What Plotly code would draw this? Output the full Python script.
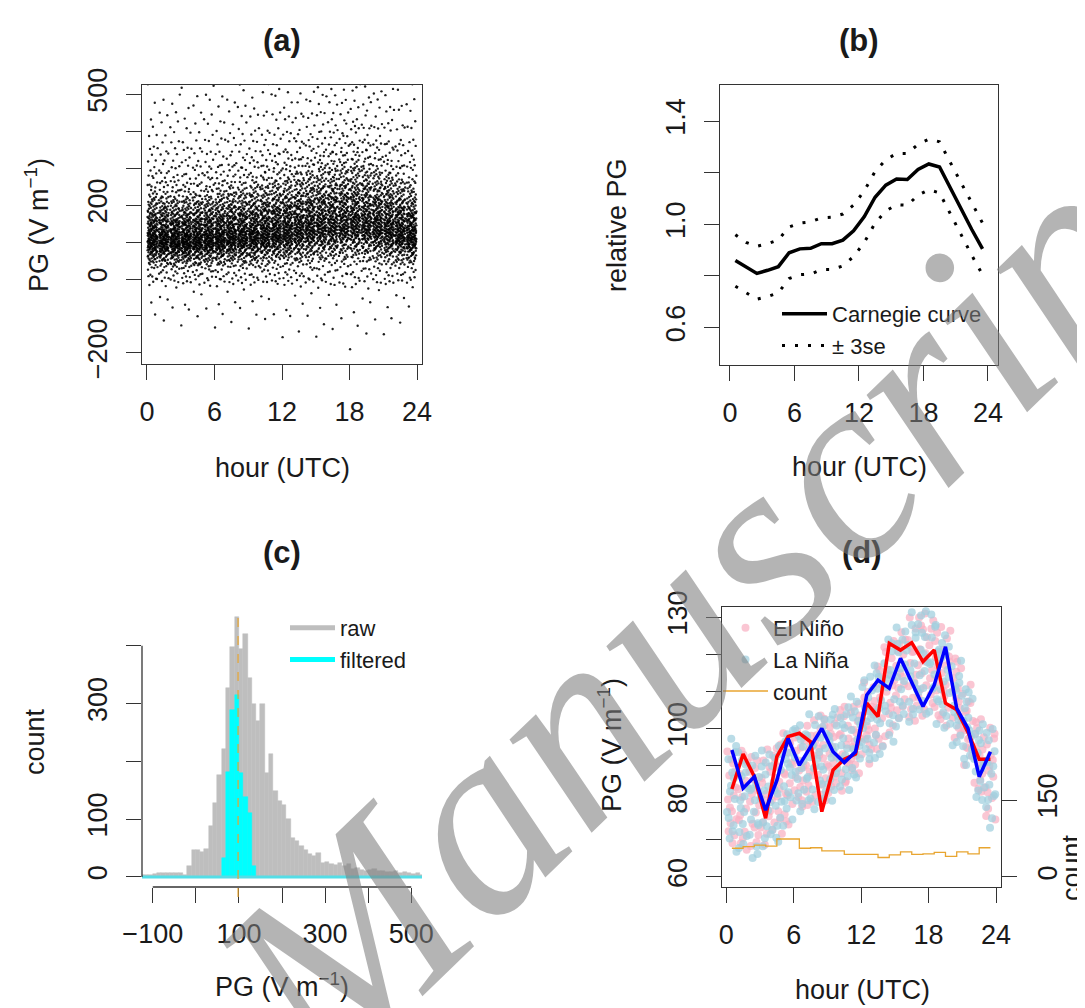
import math
import plotly.graph_objects as go

W, H = 1085, 1008
OFF = 8  # the page body margin shifts the figure by 8 px
FONT = "Liberation Sans, Arial, Helvetica, sans-serif"
INK = "#1a1a1a"
AXC = "#333333"

# ------------------------------------------------------------------ data
hours = list(range(24))
hour_mid = [h + 0.5 for h in hours]

# (c) raw PG histogram, 10 V/m bins (left edges) and counts
raw_bin_left = list(range(-130, 530, 10))
raw_counts = [4, 4, 3, 5, 7, 7, 6, 6, 6, 7, 4, 18, 46,
              47, 43, 48, 88, 128, 176, 222, 326, 398, 450,
              395, 420, 345, 300, 270, 300, 180, 212, 148, 132,
              125, 100, 68, 62, 53, 46, 40, 36, 42, 24,
              25, 23, 20, 24, 18, 22, 14, 16, 12, 10,
              12, 14, 11, 10, 9, 8, 10, 7, 8, 6, 5, 6, 4]
# (c) filtered PG histogram
filt_bin_left = [60, 70, 80, 90, 100, 110, 120, 130]
filt_counts = [32, 182, 288, 314, 180, 138, 110, 18]
pg_median_line = 98

# (a) centre of the dense PG band for each hour
a_hour_centre = [97, 96, 95, 95, 97, 99, 101, 104, 106, 108, 112, 115,
                 118, 123, 128, 132, 135, 138, 140, 136, 130, 124, 115, 108]

# (b) Carnegie curve and +-3 standard errors
carnegie = [0.86, 0.835, 0.81, 0.822, 0.836, 0.89, 0.905, 0.907, 0.925, 0.925,
            0.939, 0.975, 1.03, 1.105, 1.152, 1.176, 1.174, 1.213, 1.234, 1.222,
            1.14, 1.06, 0.98, 0.905]
carnegie_upper = [0.96, 0.93, 0.915, 0.925, 0.94, 0.99, 1.005, 1.01, 1.025, 1.028,
                  1.04, 1.075, 1.13, 1.205, 1.25, 1.275, 1.275, 1.31, 1.33, 1.32,
                  1.24, 1.16, 1.08, 1.005]
carnegie_lower = [0.76, 0.735, 0.71, 0.72, 0.735, 0.79, 0.805, 0.807, 0.825, 0.825,
                  0.839, 0.875, 0.93, 1.005, 1.052, 1.076, 1.074, 1.113, 1.134, 1.122,
                  1.04, 0.96, 0.88, 0.805]

# (d) hourly mean PG for El Nino / La Nina and hourly sample count
elnino_mean = [83.7, 93.1, 87.0, 75.8, 92.4, 97.8, 98.7, 96.4, 77.6, 88.8, 91.7, 93.1,
               106.8, 103.2, 122.9, 121.1, 123.1, 118.0, 121.1, 106.8, 105.0, 99.0, 91.7, 91.7]
lanina_mean = [94.2, 83.9, 87.0, 78.0, 86.0, 97.3, 90.1, 95.0, 100.0, 93.7, 90.8, 93.7,
               109.0, 113.0, 110.8, 118.9, 112.6, 105.9, 111.7, 122.0, 105.4, 100.0, 87.0, 93.7]
count_per_hour = [56, 59, 62, 60, 74, 74, 56, 57, 51, 51, 44, 44,
                  44, 38, 43, 49, 44, 45, 48, 40, 49, 45, 57, 57]
# (d) envelopes of the individual-value clouds, per hour
elnino_lo = [68, 67, 67, 68, 70, 74, 77, 79, 80, 81, 83, 87, 90, 93, 97, 100, 102, 103, 102, 100, 96, 90, 82, 75]
elnino_hi = [97, 95, 94, 95, 97, 99, 101, 103, 104, 105, 106, 108, 113, 118, 124, 127, 130, 132, 132, 128, 120, 112, 104, 101]
lanina_lo = [66, 66, 65, 66, 69, 73, 76, 78, 79, 80, 82, 86, 89, 92, 96, 99, 101, 102, 101, 99, 95, 88, 80, 73]
lanina_hi = [98, 95, 93, 95, 98, 100, 102, 104, 105, 106, 107, 109, 114, 120, 125, 129, 132, 133, 131, 127, 119, 111, 103, 100]


# ------------------------------------------------------------------ derived marks
def radical_inverse(n, base):
    """Halton low-discrepancy sequence: deterministic, even spreading of points."""
    f, r = 1.0, 0.0
    while n > 0:
        f /= base
        r += f * (n % base)
        n //= base
    return r


# centre of the most populated raw bin (the dense band of the histogram)
_imax = raw_counts.index(max(raw_counts))
raw_mode = raw_bin_left[_imax] + 5.0

# (a) every raw value of the histogram, spread over the 24 hour columns and
#     scaled to that hour's band centre
a_x, a_y = [], []
i = 1
for left, n in zip(raw_bin_left, raw_counts):
    for k in range(n):
        pos = radical_inverse(i, 2) * 24.0
        fy = radical_inverse(i, 3)
        h = min(int(pos), 23)
        a_x.append(h + 0.5 + 0.9 * (pos - h - 0.5))
        a_y.append((left + 10.0 * fy) * a_hour_centre[h] / raw_mode)
        i += 1


def cloud(lo, hi, n, start):
    xs, ys = [], []
    j = start
    for h in hours:
        for m in range(n):
            fx = radical_inverse(j, 2)
            fy = radical_inverse(j, 3)
            xs.append(h + 0.04 + 0.92 * fx)
            ys.append(lo[h] + (hi[h] - lo[h]) * fy)
            j += 1
    return xs, ys


en_x, en_y = cloud(elnino_lo, elnino_hi, 15, 1)
ln_x, ln_y = cloud(lanina_lo, lanina_hi, 15, 777)

# ------------------------------------------------------------------ figure
fig = go.Figure()

# (a)
fig.add_trace(go.Scatter(x=a_x, y=a_y, mode="markers", xaxis="x", yaxis="y",
                         marker=dict(size=2.4, color="rgba(0,0,0,0.88)"), showlegend=False,
                         hoverinfo="skip"))

# (b)
fig.add_trace(go.Scatter(x=hour_mid, y=carnegie, mode="lines", xaxis="x2", yaxis="y2",
                         line=dict(color="black", width=3.5), name="Carnegie curve",
                         legend="legend"))
fig.add_trace(go.Scatter(x=hour_mid, y=carnegie_upper, mode="lines", xaxis="x2", yaxis="y2",
                         line=dict(color="black", width=3, dash="3px,10px"), name="± 3se",
                         legend="legend"))
fig.add_trace(go.Scatter(x=hour_mid, y=carnegie_lower, mode="lines", xaxis="x2", yaxis="y2",
                         line=dict(color="black", width=3, dash="3px,10px"), showlegend=False))

# (c)
fig.add_trace(go.Bar(x=[l + 5 for l in raw_bin_left], y=raw_counts, width=10,
                     xaxis="x3", yaxis="y3",
                     marker=dict(color="#bebebe", line=dict(width=0.5, color="#bebebe")),
                     showlegend=False))
fig.add_trace(go.Bar(x=[l + 5 for l in filt_bin_left], y=filt_counts, width=10,
                     xaxis="x3", yaxis="y3",
                     marker=dict(color="#00ffff", line=dict(width=0.5, color="#00ffff")),
                     showlegend=False))
fig.add_trace(go.Scatter(x=[raw_bin_left[0], raw_bin_left[-1] + 10], y=[0, 0], mode="lines",
                         xaxis="x3", yaxis="y3", line=dict(color="#55dde6", width=3),
                         showlegend=False, hoverinfo="skip"))
fig.add_trace(go.Scatter(x=[None], y=[None], mode="lines", xaxis="x3", yaxis="y3",
                         line=dict(color="#bebebe", width=5), name="raw", legend="legend2"))
fig.add_trace(go.Scatter(x=[None], y=[None], mode="lines", xaxis="x3", yaxis="y3",
                         line=dict(color="#00ffff", width=5), name="filtered", legend="legend2"))

# (d)
fig.add_trace(go.Scatter(x=en_x, y=en_y, mode="markers", xaxis="x4", yaxis="y4",
                         marker=dict(size=8, color="rgba(248,176,194,0.72)"),
                         name="El Niño", legend="legend3"))
fig.add_trace(go.Scatter(x=ln_x, y=ln_y, mode="markers", xaxis="x4", yaxis="y4",
                         marker=dict(size=8, color="rgba(160,206,222,0.72)"),
                         name="La Niña", legend="legend3"))
fig.add_trace(go.Scatter(x=hour_mid, y=elnino_mean, mode="lines", xaxis="x4", yaxis="y4",
                         line=dict(color="#ff0000", width=3.5), showlegend=False))
fig.add_trace(go.Scatter(x=hour_mid, y=lanina_mean, mode="lines", xaxis="x4", yaxis="y4",
                         line=dict(color="#0000ff", width=3.5), showlegend=False))
fig.add_trace(go.Scatter(x=hour_mid, y=count_per_hour, mode="lines", xaxis="x4", yaxis="y5",
                         line=dict(color="#e8a530", width=1.3, shape="hv"),
                         name="count", legend="legend3"))


def PX(p):
    return (p - OFF) / W


def PY(p):
    return 1 - (p - OFF) / H


def xd(l, r):
    return [PX(l), PX(r)]


def yd(t, b):
    return [PY(b), PY(t)]


def axis(domain, rng, tickvals, ticktext, angle=0, showline=True, mirror=True, standoff=8, **kw):
    d = dict(domain=domain, range=rng, tickmode="array", tickvals=tickvals, ticktext=ticktext,
             showline=showline, linecolor=AXC, linewidth=1.3, mirror=mirror,
             ticks="outside", ticklen=15, tickwidth=1.3, tickcolor=AXC,
             showgrid=False, zeroline=False, tickangle=angle, automargin=False,
             tickfont=dict(family=FONT, size=27, color=INK),
             ticklabelstandoff=standoff, fixedrange=True)
    d.update(kw)
    return d


hour_ticks = [0, 6, 12, 18, 24]
hour_text = ["0", "6", "12", "18", "24"]

layout = dict(
    width=W, height=H, autosize=False,
    margin=dict(l=0, r=0, t=0, b=0, pad=0, autoexpand=False),
    paper_bgcolor="white", plot_bgcolor="white",
    font=dict(family=FONT, color=INK),
    barmode="overlay", bargap=0,
    xaxis=axis(xd(142, 422), [-0.44, 24.44], hour_ticks, hour_text, anchor="y"),
    yaxis=axis(yd(85, 364), [-230, 525], list(range(-200, 501, 100)),
               ["−200", "", "0", "", "200", "", "", "500"], angle=-90, anchor="x"),
    xaxis2=axis(xd(720, 998), [-0.93, 24.94], hour_ticks, hour_text, anchor="y2"),
    yaxis2=axis(yd(85, 365), [0.455, 1.54], [0.6, 0.8, 1.0, 1.2, 1.4],
                ["0.6", "", "1.0", "", "1.4"], angle=-90, anchor="x2"),
    xaxis3=axis(xd(142, 422), [-125, 525], list(range(-100, 501, 100)),
                ["−100", "", "100", "", "300", "", "500"], showline=False, mirror=False,
                anchor="y3"),
    yaxis3=axis(yd(607, 887), [-17.5, 467], [0, 100, 200, 300, 400],
                ["0", "100", "", "300", ""], angle=-90, showline=False, mirror=False,
                anchor="x3"),
    xaxis4=axis(xd(722, 1001), [-0.38, 24.44], hour_ticks, hour_text, anchor="y4"),
    yaxis4=axis(yd(607, 887), [57.3, 132.7], list(range(60, 131, 10)),
                ["60", "", "80", "", "100", "", "", "130"], angle=-90, anchor="x4"),
    yaxis5=axis(yd(607, 887), [-19.5, 526], [0, 150], ["0", "150"], angle=-90,
                showline=False, mirror=False, overlaying="y4", side="right", anchor="x4"),
)

leg_common = dict(bgcolor="rgba(0,0,0,0)", borderwidth=0, xanchor="left", yanchor="top",
                  font=dict(family=FONT, size=22, color=INK), itemwidth=45,
                  tracegroupgap=0, traceorder="normal")
layout["legend"] = dict(leg_common, x=PX(777), y=PY(293))
layout["legend2"] = dict(leg_common, x=PX(285), y=PY(607))
layout["legend3"] = dict(leg_common, x=PX(718), y=PY(607))

ann = []


def txt(s, px, py, size=27, angle=0, bold=False):
    ann.append(dict(text=("<b>%s</b>" % s) if bold else s, x=PX(px), y=PY(py),
                    xref="paper", yref="paper", showarrow=False, textangle=angle,
                    xanchor="center", yanchor="middle",
                    font=dict(family=FONT, size=size, color=INK)))


PG_LAB = "PG (V m<sup>−1</sup>)"
txt("(a)", 282, 40, 31, bold=True)
txt("(b)", 859, 40, 31, bold=True)
txt("(c)", 282, 552, 31, bold=True)
txt("(d)", 862, 552, 31, bold=True)
txt("hour (UTC)", 282, 468)
txt(PG_LAB, 37, 225, angle=-90)
txt("hour (UTC)", 859, 467)
txt("relative PG", 617, 225, angle=-90)
txt(PG_LAB, 282, 985)
txt("count", 35, 742, angle=-90)
txt("hour (UTC)", 862, 990)
txt(PG_LAB, 610, 745, angle=-90)
txt("count", 1072, 868, angle=-90)

# journal watermark
ann.append(dict(text="<i>Manuscript</i>", x=PX(712), y=PY(590), xref="paper", yref="paper",
                showarrow=False, textangle=-44, xanchor="center", yanchor="middle",
                font=dict(family="Liberation Serif, Times New Roman, serif", size=270,
                          color="rgba(125,125,125,0.58)")))
layout["annotations"] = ann

layout["shapes"] = [
    dict(type="line", xref="x3", yref="y3 domain", x0=-100, x1=500, y0=0, y1=0,
         line=dict(color=AXC, width=1.3)),
    dict(type="line", xref="x3 domain", yref="y3", x0=0, x1=0, y0=0, y1=400,
         line=dict(color=AXC, width=1.3)),
    dict(type="line", xref="x3", yref="y3 domain", x0=pg_median_line, x1=pg_median_line,
         y0=-0.036, y1=0.97, line=dict(color="#e8a530", width=1.2, dash="dash")),
]

fig.update_layout(**layout)
fig.write_html("out.html", config={"displayModeBar": False})
